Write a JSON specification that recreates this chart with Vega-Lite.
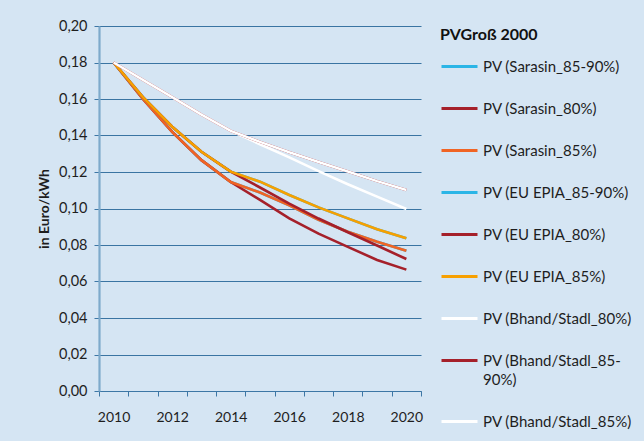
{
  "$schema": "https://vega.github.io/schema/vega-lite/v6.json",
  "width": 322,
  "height": 365,
  "autosize": "none",
  "padding": {"left": 99, "top": 26, "right": 223, "bottom": 50},
  "background": "#d5e5f3",
  "config": {
    "view": {"stroke": null},
    "font": "Lato",
    "axis": {"labelColor": "#1e1e1e", "titleColor": "#1e1e1e"}
  },
  "data": {
    "values": [
      {"series": "PV (Sarasin_85-90%)", "year": 2010, "value": 0.18},
      {"series": "PV (Sarasin_85-90%)", "year": 2011, "value": 0.16},
      {"series": "PV (Sarasin_85-90%)", "year": 2012, "value": 0.142},
      {"series": "PV (Sarasin_85-90%)", "year": 2013, "value": 0.1265},
      {"series": "PV (Sarasin_85-90%)", "year": 2014, "value": 0.1145},
      {"series": "PV (Sarasin_85-90%)", "year": 2015, "value": 0.1088},
      {"series": "PV (Sarasin_85-90%)", "year": 2016, "value": 0.1017},
      {"series": "PV (Sarasin_85-90%)", "year": 2017, "value": 0.0938},
      {"series": "PV (Sarasin_85-90%)", "year": 2018, "value": 0.0873},
      {"series": "PV (Sarasin_85-90%)", "year": 2019, "value": 0.0818},
      {"series": "PV (Sarasin_85-90%)", "year": 2020, "value": 0.0768},
      {"series": "PV (Sarasin_80%)", "year": 2010, "value": 0.18},
      {"series": "PV (Sarasin_80%)", "year": 2011, "value": 0.16},
      {"series": "PV (Sarasin_80%)", "year": 2012, "value": 0.142},
      {"series": "PV (Sarasin_80%)", "year": 2013, "value": 0.1265},
      {"series": "PV (Sarasin_80%)", "year": 2014, "value": 0.1145},
      {"series": "PV (Sarasin_80%)", "year": 2015, "value": 0.1047},
      {"series": "PV (Sarasin_80%)", "year": 2016, "value": 0.0946},
      {"series": "PV (Sarasin_80%)", "year": 2017, "value": 0.0862},
      {"series": "PV (Sarasin_80%)", "year": 2018, "value": 0.079},
      {"series": "PV (Sarasin_80%)", "year": 2019, "value": 0.0718},
      {"series": "PV (Sarasin_80%)", "year": 2020, "value": 0.0665},
      {"series": "PV (Sarasin_85%)", "year": 2010, "value": 0.18},
      {"series": "PV (Sarasin_85%)", "year": 2011, "value": 0.16},
      {"series": "PV (Sarasin_85%)", "year": 2012, "value": 0.142},
      {"series": "PV (Sarasin_85%)", "year": 2013, "value": 0.1265},
      {"series": "PV (Sarasin_85%)", "year": 2014, "value": 0.1145},
      {"series": "PV (Sarasin_85%)", "year": 2015, "value": 0.1088},
      {"series": "PV (Sarasin_85%)", "year": 2016, "value": 0.1017},
      {"series": "PV (Sarasin_85%)", "year": 2017, "value": 0.0938},
      {"series": "PV (Sarasin_85%)", "year": 2018, "value": 0.0873},
      {"series": "PV (Sarasin_85%)", "year": 2019, "value": 0.0818},
      {"series": "PV (Sarasin_85%)", "year": 2020, "value": 0.0768},
      {"series": "PV (EU EPIA_85-90%)", "year": 2010, "value": 0.18},
      {"series": "PV (EU EPIA_85-90%)", "year": 2011, "value": 0.161},
      {"series": "PV (EU EPIA_85-90%)", "year": 2012, "value": 0.1448},
      {"series": "PV (EU EPIA_85-90%)", "year": 2013, "value": 0.1311},
      {"series": "PV (EU EPIA_85-90%)", "year": 2014, "value": 0.1202},
      {"series": "PV (EU EPIA_85-90%)", "year": 2015, "value": 0.1147},
      {"series": "PV (EU EPIA_85-90%)", "year": 2016, "value": 0.1074},
      {"series": "PV (EU EPIA_85-90%)", "year": 2017, "value": 0.1006},
      {"series": "PV (EU EPIA_85-90%)", "year": 2018, "value": 0.0946},
      {"series": "PV (EU EPIA_85-90%)", "year": 2019, "value": 0.0886},
      {"series": "PV (EU EPIA_85-90%)", "year": 2020, "value": 0.0837},
      {"series": "PV (EU EPIA_80%)", "year": 2010, "value": 0.18},
      {"series": "PV (EU EPIA_80%)", "year": 2011, "value": 0.161},
      {"series": "PV (EU EPIA_80%)", "year": 2012, "value": 0.1448},
      {"series": "PV (EU EPIA_80%)", "year": 2013, "value": 0.1311},
      {"series": "PV (EU EPIA_80%)", "year": 2014, "value": 0.1202},
      {"series": "PV (EU EPIA_80%)", "year": 2015, "value": 0.1115},
      {"series": "PV (EU EPIA_80%)", "year": 2016, "value": 0.1027},
      {"series": "PV (EU EPIA_80%)", "year": 2017, "value": 0.0945},
      {"series": "PV (EU EPIA_80%)", "year": 2018, "value": 0.087},
      {"series": "PV (EU EPIA_80%)", "year": 2019, "value": 0.0797},
      {"series": "PV (EU EPIA_80%)", "year": 2020, "value": 0.0723},
      {"series": "PV (EU EPIA_85%)", "year": 2010, "value": 0.18},
      {"series": "PV (EU EPIA_85%)", "year": 2011, "value": 0.161},
      {"series": "PV (EU EPIA_85%)", "year": 2012, "value": 0.1448},
      {"series": "PV (EU EPIA_85%)", "year": 2013, "value": 0.1311},
      {"series": "PV (EU EPIA_85%)", "year": 2014, "value": 0.1202},
      {"series": "PV (EU EPIA_85%)", "year": 2015, "value": 0.1147},
      {"series": "PV (EU EPIA_85%)", "year": 2016, "value": 0.1074},
      {"series": "PV (EU EPIA_85%)", "year": 2017, "value": 0.1006},
      {"series": "PV (EU EPIA_85%)", "year": 2018, "value": 0.0946},
      {"series": "PV (EU EPIA_85%)", "year": 2019, "value": 0.0886},
      {"series": "PV (EU EPIA_85%)", "year": 2020, "value": 0.0837},
      {"series": "PV (Bhand/Stadl_80%)", "year": 2010, "value": 0.18},
      {"series": "PV (Bhand/Stadl_80%)", "year": 2011, "value": 0.1705},
      {"series": "PV (Bhand/Stadl_80%)", "year": 2012, "value": 0.161},
      {"series": "PV (Bhand/Stadl_80%)", "year": 2013, "value": 0.1515},
      {"series": "PV (Bhand/Stadl_80%)", "year": 2014, "value": 0.1425},
      {"series": "PV (Bhand/Stadl_80%)", "year": 2015, "value": 0.1352},
      {"series": "PV (Bhand/Stadl_80%)", "year": 2016, "value": 0.128},
      {"series": "PV (Bhand/Stadl_80%)", "year": 2017, "value": 0.1205},
      {"series": "PV (Bhand/Stadl_80%)", "year": 2018, "value": 0.1133},
      {"series": "PV (Bhand/Stadl_80%)", "year": 2019, "value": 0.1065},
      {"series": "PV (Bhand/Stadl_80%)", "year": 2020, "value": 0.0997},
      {"series": "PV (Bhand/Stadl_85-90%)", "year": 2010, "value": 0.18},
      {"series": "PV (Bhand/Stadl_85-90%)", "year": 2011, "value": 0.1705},
      {"series": "PV (Bhand/Stadl_85-90%)", "year": 2012, "value": 0.161},
      {"series": "PV (Bhand/Stadl_85-90%)", "year": 2013, "value": 0.1515},
      {"series": "PV (Bhand/Stadl_85-90%)", "year": 2014, "value": 0.1425},
      {"series": "PV (Bhand/Stadl_85-90%)", "year": 2015, "value": 0.1365},
      {"series": "PV (Bhand/Stadl_85-90%)", "year": 2016, "value": 0.1308},
      {"series": "PV (Bhand/Stadl_85-90%)", "year": 2017, "value": 0.1255},
      {"series": "PV (Bhand/Stadl_85-90%)", "year": 2018, "value": 0.1203},
      {"series": "PV (Bhand/Stadl_85-90%)", "year": 2019, "value": 0.115},
      {"series": "PV (Bhand/Stadl_85-90%)", "year": 2020, "value": 0.1101},
      {"series": "PV (Bhand/Stadl_85%)", "year": 2010, "value": 0.18},
      {"series": "PV (Bhand/Stadl_85%)", "year": 2011, "value": 0.1705},
      {"series": "PV (Bhand/Stadl_85%)", "year": 2012, "value": 0.161},
      {"series": "PV (Bhand/Stadl_85%)", "year": 2013, "value": 0.1515},
      {"series": "PV (Bhand/Stadl_85%)", "year": 2014, "value": 0.1425},
      {"series": "PV (Bhand/Stadl_85%)", "year": 2015, "value": 0.1365},
      {"series": "PV (Bhand/Stadl_85%)", "year": 2016, "value": 0.1308},
      {"series": "PV (Bhand/Stadl_85%)", "year": 2017, "value": 0.1255},
      {"series": "PV (Bhand/Stadl_85%)", "year": 2018, "value": 0.1203},
      {"series": "PV (Bhand/Stadl_85%)", "year": 2019, "value": 0.115},
      {"series": "PV (Bhand/Stadl_85%)", "year": 2020, "value": 0.1101}
    ]
  },
  "mark": {"type": "line", "strokeWidth": 2.6, "strokeCap": "butt"},
  "encoding": {
    "x": {
      "field": "year",
      "type": "quantitative",
      "scale": {"domain": [2009.5, 2020.5], "nice": false, "zero": false},
      "axis": {
        "title": null,
        "grid": false,
        "values": [2009.5, 2010.5, 2011.5, 2012.5, 2013.5, 2014.5, 2015.5, 2016.5, 2017.5, 2018.5, 2019.5, 2020.5],
        "labelExpr": "(datum.value - 2009.5) % 2 == 0 && datum.value < 2020 ? format(datum.value + 0.5, 'd') : ''",
        "labelOffset": 14.6,
        "labelFlush": false,
        "labelOverlap": false,
        "labelFontSize": 14,
        "labelPadding": 14,
        "tickSize": 5,
        "tickColor": "#3d77a5",
        "domainColor": "#3d77a5",
        "domainWidth": 1.2
      }
    },
    "y": {
      "field": "value",
      "type": "quantitative",
      "scale": {"domain": [0, 0.2], "nice": false},
      "axis": {
        "title": "in Euro/kWh",
        "titleFontSize": 14,
        "titleFontWeight": "bold",
        "titlePadding": 7,
        "values": [0, 0.02, 0.04, 0.06, 0.08, 0.1, 0.12, 0.14, 0.16, 0.18, 0.2],
        "labelExpr": "replace(format(datum.value, '.2f'), '.', ',')",
        "labelFontSize": 14.5,
        "labelPadding": 7,
        "tickSize": 5,
        "tickColor": "#3d77a5",
        "grid": true,
        "gridColor": "#3a74a2",
        "gridWidth": 1.2,
        "domainColor": "#7eaacb",
        "domainWidth": 2.2
      }
    },
    "color": {
      "field": "series",
      "type": "nominal",
      "sort": null,
      "scale": {
        "domain": ["PV (Sarasin_85-90%)", "PV (Sarasin_80%)", "PV (Sarasin_85%)", "PV (EU EPIA_85-90%)", "PV (EU EPIA_80%)", "PV (EU EPIA_85%)", "PV (Bhand/Stadl_80%)", "PV (Bhand/Stadl_85-90%)", "PV (Bhand/Stadl_85%)"],
        "range": ["#2bb5e6", "#a5202a", "#f06424", "#2bb5e6", "#a5202a", "#f7a000", "#ffffff", "#a5202a", "#ffffff"]
      },
      "legend": {
        "title": "PVGroß 2000",
        "titleFontSize": 16,
        "titleFontWeight": "bold",
        "titleColor": "#111111",
        "titlePadding": 4,
        "orient": "none",
        "legendX": 341,
        "legendY": 1,
        "symbolType": "stroke",
        "symbolSize": 1296,
        "symbolStrokeWidth": 3,
        "labelFontSize": 15,
        "labelColor": "#1e1e1e",
        "labelOffset": 4,
        "labelLimit": 300,
        "rowPadding": 14,
        "labelExpr": "datum.label == 'PV (Bhand/Stadl_85-90%)' ? ['PV (Bhand/Stadl_85-', '90%)'] : datum.label",
        "encode": {
          "labels": {
            "update": {
              "lineHeight": {"value": 19}
            }
          }
        }
      }
    }
  }
}
